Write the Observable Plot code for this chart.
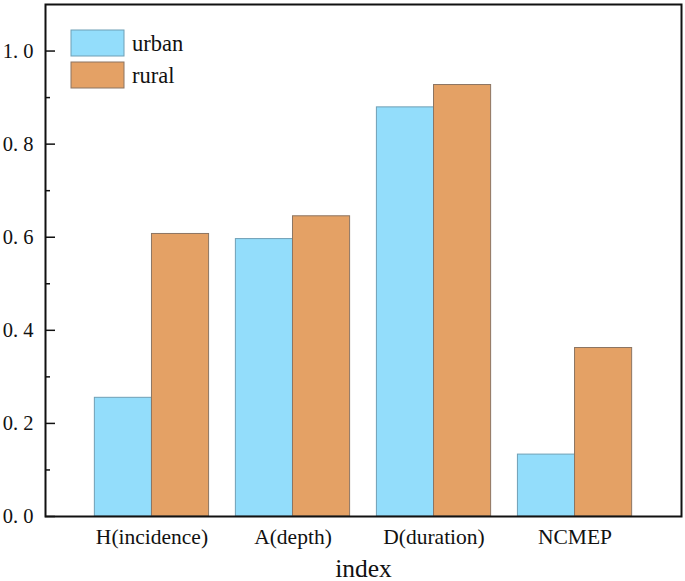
<!DOCTYPE html>
<html><head><meta charset="utf-8">
<script src="https://cdn.jsdelivr.net/npm/d3@7"></script>
<script src="https://cdn.jsdelivr.net/npm/@observablehq/plot@0.6"></script>
<style>body{margin:0;background:#fff;} #chart{position:relative;width:685px;height:581px;}</style>
</head><body><div id="chart"></div>
<script>
const categories = ["H(incidence)", "A(depth)", "D(duration)", "NCMEP"];
const series = ["urban", "rural"];
const urbanValues = [0.255, 0.596, 0.879, 0.133];
const ruralValues = [0.607, 0.645, 0.927, 0.362];
const majorTicks = [0, 0.2, 0.4, 0.6, 0.8, 1.0];
const minorTicks = [0.1, 0.3, 0.5, 0.7, 0.9];
const colors = {urban: "#93DDFB", rural: "#E4A165"};
const strokes = {urban: "#6f9fb5", rural: "#8c7562"};

const W = 685, H = 581, mL = 45, mR = 4, mT = 4, mB = 65;
const pIn = 0.19, pOut = 0.35;
const innerW = W - mL - mR;
const step = innerW / (categories.length - pIn + 2 * pOut);
const half = step * (1 - pIn) / 2;

const urban = categories.map((c, i) => ({cat: c, v: urbanValues[i]}));
const rural = categories.map((c, i) => ({cat: c, v: ruralValues[i]}));
const font = "'Liberation Serif', 'DejaVu Serif', serif";

const plot = Plot.plot({
  width: W, height: H,
  marginLeft: mL, marginRight: mR, marginTop: mT, marginBottom: mB,
  style: {fontFamily: font, fontSize: "20px", color: "#111", background: "#fff"},
  x: {domain: categories, paddingInner: pIn, paddingOuter: pOut, round: false, label: null},
  y: {domain: [0, 1.1], label: null},
  marks: [
    Plot.barY(urban, {x: "cat", y: "v", fill: colors.urban, stroke: strokes.urban, strokeWidth: 1, insetRight: half}),
    Plot.barY(rural, {x: "cat", y: "v", fill: colors.rural, stroke: strokes.rural, strokeWidth: 1, insetLeft: half}),
    Plot.ruleY(majorTicks, {stroke: "#111", strokeWidth: 1.5, insetRight: innerW - 10}),
    Plot.ruleY(minorTicks, {stroke: "#111", strokeWidth: 1.5, insetRight: innerW - 5}),
    Plot.frame({stroke: "#111", strokeWidth: 2}),
    Plot.axisY({ticks: majorTicks, tickSize: 0, tickPadding: 12, tickFormat: d => d.toFixed(1).replace(".", ". "), fontSize: 20.5, label: null}),
    Plot.axisX({tickSize: 0, tickPadding: 12, fontSize: 21.5, label: null}),
    Plot.text(["index"], {frameAnchor: "bottom", dy: 60, lineAnchor: "bottom", fontSize: 25.5, fill: "#111"})
  ]
});

const svg = d3.select(plot);
const legend = [
  {name: "urban", y: 30},
  {name: "rural", y: 62}
];
const g = svg.append("g").attr("text-anchor", "start");
legend.forEach(d => {
  g.append("rect").attr("x", 71).attr("y", d.y).attr("width", 53).attr("height", 26)
    .attr("fill", colors[d.name]).attr("stroke", strokes[d.name]).attr("stroke-width", 1);
  g.append("text").attr("x", 132).attr("y", d.y + 21).attr("font-size", 22.5)
    .attr("text-anchor", "start")
    .attr("font-family", font).attr("fill", "#111").text(d.name);
});

document.getElementById("chart").appendChild(plot);
</script>
</body></html>
